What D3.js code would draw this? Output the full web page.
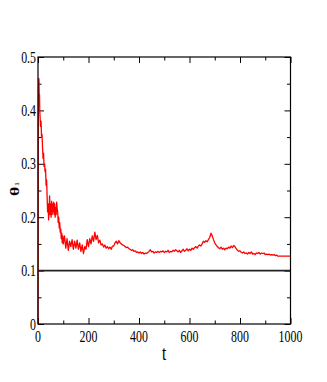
<!DOCTYPE html>
<html lang="en">
<head>
  <meta charset="UTF-8">
  <title>theta_1 vs t</title>
  <script src="https://d3js.org/d3.v7.min.js"></script>
  <style>
    body { margin: 0; background: #fff; }
    text { font-family: "Liberation Serif", "Times New Roman", serif; }
  </style>
</head>
<body>
  <svg width="327" height="382"></svg>

  <script>
    // time steps of the red trace
    const tValues = [
      0, 1, 2, 3, 4, 5, 6, 7, 8, 10, 12, 14, 16, 18, 20, 22, 24, 26, 28, 30,
      32, 34, 36, 38, 40, 42, 44, 46, 48, 50, 52, 54, 56, 58, 60, 62, 64, 66, 68, 70,
      72, 74, 76, 78, 80, 82, 84, 86, 88, 90, 92, 94, 96, 98, 100,
      105, 110, 115, 120, 125, 130, 135, 140, 145, 150, 155, 160, 165, 170, 175, 180, 185, 190, 195, 200,
      205, 210, 215, 220, 225, 230, 235, 240, 245, 250, 255, 260, 265, 270, 275, 280, 285, 290, 295, 300,
      305, 310, 315, 320, 325, 330, 335, 340, 345, 350, 355, 360, 365, 370, 375, 380, 385, 390, 395, 400,
      405, 410, 415, 420, 425, 430, 435, 440, 445, 450, 455, 460, 465, 470, 475, 480, 485, 490, 495, 500,
      505, 510, 515, 520, 525, 530, 535, 540, 545, 550, 555, 560, 565, 570, 575, 580, 585, 590, 595, 600,
      605, 610, 615, 620, 625, 630, 635, 640, 645, 650, 655, 660, 665, 670, 675, 680, 685, 690, 695, 700,
      705, 710, 715, 720, 725, 730, 735, 740, 745, 750, 755, 760, 765, 770, 775, 780, 785, 790, 795, 800,
      805, 810, 815, 820, 825, 830, 835, 840, 845, 850, 855, 860, 865, 870, 875, 880, 885, 890, 895, 900,
      905, 910, 915, 920, 925, 930, 935, 940, 945, 950, 1000
    ];

    // theta_1, same order as tValues
    const thetaValues = [
      0.0, 0.38, 0.44, 0.46, 0.455, 0.42, 0.43, 0.40, 0.39, 0.37, 0.38, 0.35, 0.355, 0.33, 0.31, 0.32, 0.295, 0.30, 0.285, 0.29,
      0.26, 0.27, 0.24, 0.21, 0.225, 0.195, 0.215, 0.24, 0.205, 0.225, 0.2, 0.23, 0.205, 0.225, 0.21, 0.228, 0.205, 0.225, 0.2, 0.218,
      0.205, 0.228, 0.215, 0.21, 0.19, 0.2, 0.18, 0.19, 0.172, 0.178, 0.16, 0.17, 0.152, 0.165, 0.15,
      0.165, 0.142, 0.16, 0.138, 0.155, 0.145, 0.158, 0.14, 0.155, 0.142, 0.157, 0.14, 0.152, 0.136, 0.148, 0.132, 0.145, 0.14, 0.158, 0.145,
      0.16, 0.15, 0.165, 0.155, 0.172, 0.158, 0.166, 0.152, 0.157, 0.148, 0.15, 0.144, 0.148, 0.142, 0.145, 0.141, 0.144, 0.14, 0.146, 0.146,
      0.152, 0.155, 0.15, 0.156, 0.152, 0.15, 0.148, 0.147, 0.145, 0.143, 0.144, 0.141, 0.14, 0.138, 0.139, 0.136, 0.137, 0.134, 0.135, 0.133,
      0.135, 0.132, 0.134, 0.131, 0.133, 0.132, 0.134, 0.136, 0.139, 0.135, 0.136, 0.133, 0.135, 0.134, 0.136, 0.134, 0.136, 0.135, 0.137, 0.134,
      0.136, 0.135, 0.138, 0.134, 0.136, 0.135, 0.138, 0.136, 0.139, 0.137, 0.135, 0.138, 0.134, 0.137, 0.14, 0.136, 0.138, 0.141, 0.137, 0.14,
      0.138, 0.142, 0.14, 0.143, 0.145, 0.142, 0.146, 0.148, 0.146, 0.15, 0.155, 0.153, 0.156, 0.154, 0.158, 0.162, 0.17, 0.165, 0.158, 0.152,
      0.148, 0.145, 0.143, 0.141, 0.144, 0.14, 0.142, 0.139, 0.142, 0.141, 0.144, 0.142, 0.146, 0.143, 0.147, 0.145, 0.141, 0.138, 0.136, 0.137,
      0.134, 0.133, 0.135, 0.132, 0.133, 0.131, 0.134, 0.132, 0.135, 0.131, 0.132, 0.13, 0.133, 0.132, 0.134, 0.131, 0.133, 0.132, 0.133, 0.13,
      0.131, 0.13, 0.131, 0.129, 0.13, 0.129, 0.13, 0.128, 0.129, 0.127, 0.127
    ];

    const refLevel = 0.1;   // black horizontal line

    const xMajor = [0, 200, 400, 600, 800, 1000];
    const xMinor = [100, 300, 500, 700, 900];
    const yMajor = [0, 0.1, 0.2, 0.3, 0.4, 0.5];
    const yMinor = [0.05, 0.15, 0.25, 0.35, 0.45];

    const svg = d3.select("svg");
    const margin = {top: 57, left: 38, right: 36.5, bottom: 58};
    const W = 327 - margin.left - margin.right;
    const H = 382 - margin.top - margin.bottom;
    const squash = 0.7; // the source image is squeezed sideways

    const x = d3.scaleLinear().domain([0, 1000]).range([0, W]);
    const y = d3.scaleLinear().domain([0, 0.5]).range([H, 0]);

    const g = svg.append("g").attr("transform", `translate(${margin.left},${margin.top})`);

    // inward ticks on all four sides
    function ticks(axis, vals, size, tx) {
      const a = g.append("g").attr("transform", tx)
        .call(axis.tickValues(vals).tickSize(size).tickSizeOuter(0).tickFormat(""));
      a.select(".domain").remove();
      a.selectAll("line").attr("stroke", "#000").attr("stroke-width", 1);
    }
    ticks(d3.axisBottom(x), xMajor, -6, `translate(0,${H})`);
    ticks(d3.axisBottom(x), xMinor, -3.5, `translate(0,${H})`);
    ticks(d3.axisTop(x), xMajor, -6, "translate(0,0)");
    ticks(d3.axisTop(x), xMinor, -3.5, "translate(0,0)");
    ticks(d3.axisLeft(y), yMajor, -6, "translate(0,0)");
    ticks(d3.axisLeft(y), yMinor, -3.5, "translate(0,0)");
    ticks(d3.axisRight(y), yMajor, -6, `translate(${W},0)`);
    ticks(d3.axisRight(y), yMinor, -3.5, `translate(${W},0)`);

    // tick labels
    g.selectAll("text.xl").data(xMajor).enter().append("text")
      .attr("class", "xl")
      .attr("transform", d => `translate(${x(d)},${H + 18}) scale(${squash},1)`)
      .attr("text-anchor", "middle")
      .attr("font-size", 17)
      .text(d => d);

    g.selectAll("text.yl").data(yMajor).enter().append("text")
      .attr("class", "yl")
      .attr("transform", d => `translate(-2,${y(d)}) scale(${squash},1)`)
      .attr("text-anchor", "end")
      .attr("dy", "0.33em")
      .attr("font-size", 17)
      .text(d => d3.format("")(d));

    // reference line
    g.append("line")
      .attr("x1", x(0)).attr("x2", x(1000))
      .attr("y1", y(refLevel)).attr("y2", y(refLevel))
      .attr("stroke", "#222").attr("stroke-width", 1.6);

    // red trace
    const line = d3.line().x(d => x(d[0])).y(d => y(d[1]));
    g.append("path")
      .datum(tValues.map((t, i) => [t, thetaValues[i]]))
      .attr("d", line)
      .attr("fill", "none")
      .attr("stroke", "#ff0000")
      .attr("stroke-width", 1.3)
      .attr("stroke-linejoin", "round");

    // frame
    g.append("rect")
      .attr("width", W).attr("height", H)
      .attr("fill", "none").attr("stroke", "#000").attr("stroke-width", 1.2);

    // axis titles
    svg.append("text")
      .attr("transform", `translate(${margin.left + x(500)},360) scale(${squash},1)`)
      .attr("text-anchor", "middle")
      .attr("font-size", 22)
      .text("t");

    const yt = svg.append("text")
      .attr("transform", `translate(18.5,196) scale(${squash},1) rotate(-90)`)
      .attr("font-size", 18)
      .attr("font-weight", "bold");
    yt.append("tspan").text("θ");
    yt.append("tspan").attr("font-size", 10).attr("font-weight", "normal").attr("dy", 1).text("1");
  </script>
</body>
</html>
